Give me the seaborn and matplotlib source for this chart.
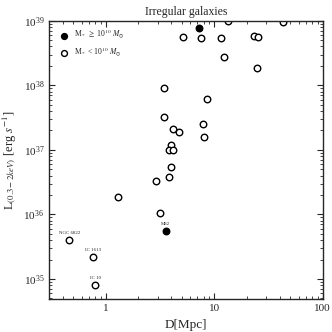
import matplotlib
matplotlib.use("Agg")
import matplotlib.pyplot as plt
import seaborn as sns
import pandas as pd

# distances [Mpc] and luminosities [erg/s]
dist_hi = [7.3, 3.57]
lum_hi = [7.6e38, 5.6e35]

dist_lo = [5.2, 7.6, 11.6, 13.3, 23.3, 25.2, 42.8, 12.3, 24.8, 3.45, 8.6, 3.42,
           7.8, 4.2, 4.74, 8.05, 3.97, 3.81, 4.18, 4.0, 2.93, 3.81, 1.30, 3.16,
           0.46, 0.76, 0.80]
lum_lo = [5.7e38, 5.4e38, 5.5e38, 1.0e39, 5.9e38, 5.7e38, 9.4e38, 2.7e38, 1.85e38,
          9.1e37, 6.1e37, 3.25e37, 2.5e37, 2.1e37, 1.9e37, 1.6e37, 1.2e37, 1.0e37,
          1.0e37, 5.4e36, 3.25e36, 3.75e36, 1.87e36, 1.05e36, 4.0e35, 2.2e35, 8.1e34]

names = ["M82", "NGC 6822", "IC 1613", "IC 10"]
name_x = [3.57, 0.46, 0.76, 0.80]
name_y = [5.6e35, 4.0e35, 2.2e35, 8.1e34]

lab_hi = r"M$_*$ $\geq$ 10$^{10}$ $M_{\odot}$"
lab_lo = r"M$_*$ < 10$^{10}$ $M_{\odot}$"

df = pd.DataFrame({
    "D": dist_hi + dist_lo,
    "L": lum_hi + lum_lo,
    "grp": [lab_hi] * len(dist_hi) + [lab_lo] * len(dist_lo),
})

sns.set_style("ticks")
plt.rcParams["font.family"] = ["Liberation Serif", "DejaVu Serif"]
plt.rcParams["mathtext.fontset"] = "stix"
plt.rcParams["xtick.direction"] = "in"
plt.rcParams["ytick.direction"] = "in"

fig = plt.figure(figsize=(3.32, 3.32), dpi=100)
ax = fig.add_axes([0.148, 0.0985, 0.824, 0.839])

sns.scatterplot(data=df[df.grp == lab_hi], x="D", y="L", ax=ax, s=22,
                color="black", edgecolor="black", linewidth=1, label=lab_hi)
sns.scatterplot(data=df[df.grp == lab_lo], x="D", y="L", ax=ax, s=22,
                facecolor="white", edgecolor="black", linewidth=1, label=lab_lo)

for n, x, y in zip(names, name_x, name_y):
    ax.annotate(n, (x, y), xytext=(0, 3.5), textcoords="offset points",
                ha="center", va="bottom", fontsize=3.5)

ax.set_xscale("log")
ax.set_yscale("log")
ax.set_xlim(0.3, 100)
ax.set_ylim(4.85e34, 1e39)
ax.set_xticks([1, 10, 100])
ax.set_xticklabels(["1", "10", "100"])
ax.tick_params(which="both", top=True, right=True, labelsize=8)
ax.tick_params(which="major", length=4)
ax.tick_params(which="minor", length=2)
for s in ax.spines.values():
    s.set_linewidth(1)

ax.set_xlabel("D[Mpc]", fontsize=9.5)
ax.set_ylabel(r"L$_{(0.3-2keV)}$ [erg $s^{-1}$]", fontsize=9)
ax.set_title("Irregular galaxies", fontsize=8.5, pad=4)
ax.legend(loc="upper left", frameon=False, fontsize=5.5, handletextpad=0.3,
          borderaxespad=0.6, labelspacing=0.6, markerscale=0.9)

fig.savefig("out.png", dpi=100)
